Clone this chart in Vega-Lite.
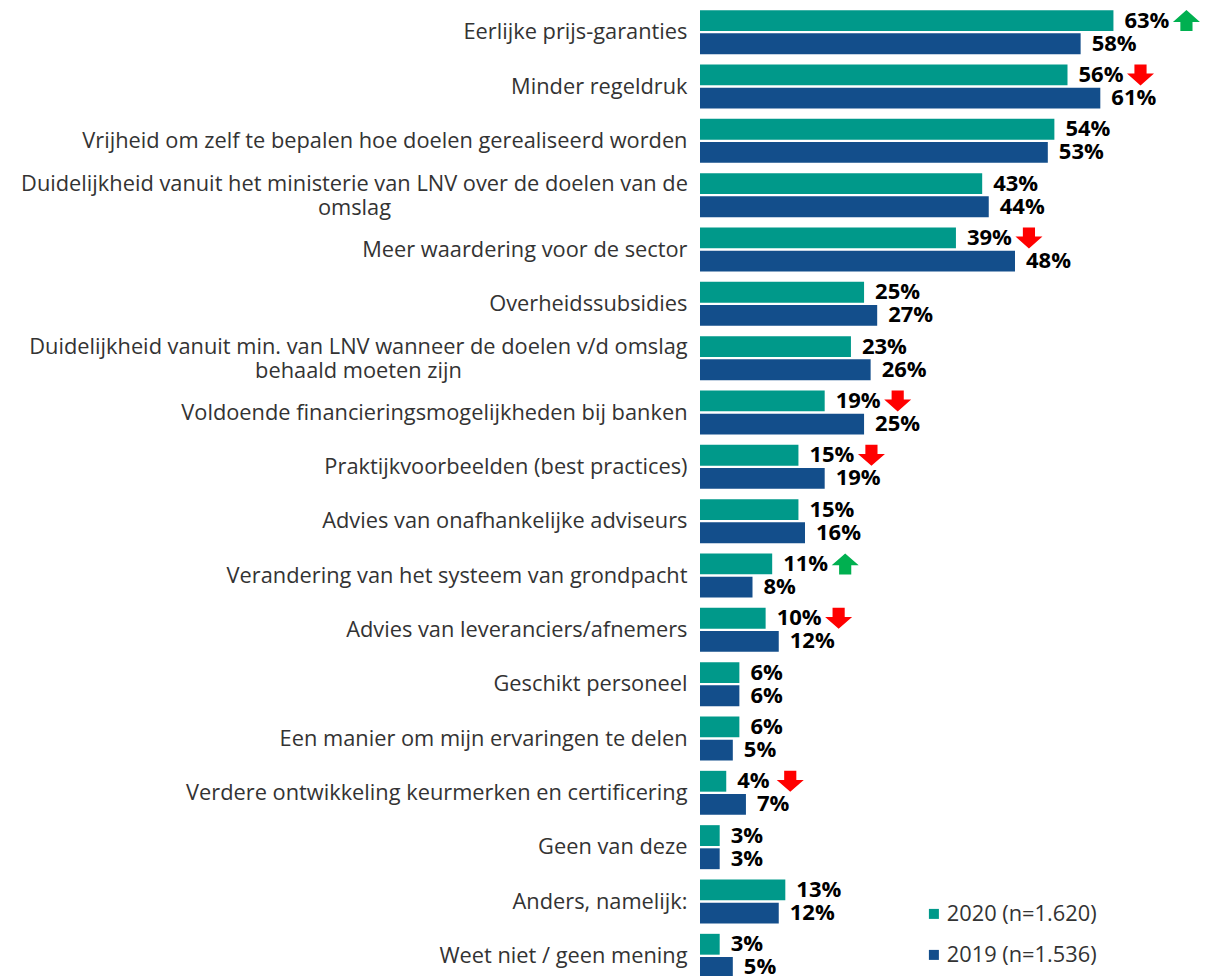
{
  "$schema": "https://vega.github.io/schema/vega-lite/v6.json",
  "width": 525,
  "height": 978,
  "autosize": {"type": "none"},
  "padding": {"left": 700, "top": 5, "right": 0, "bottom": 0},
  "background": "white",
  "config": {"view": {"stroke": null}, "font": "Open Sans"},
  "data": {"values": [
    {"cat": "Eerlijke prijs-garanties", "year": "2020 (n=1.620)", "value": 0.63, "trend": "up"},
    {"cat": "Eerlijke prijs-garanties", "year": "2019 (n=1.536)", "value": 0.58},
    {"cat": "Minder regeldruk", "year": "2020 (n=1.620)", "value": 0.56, "trend": "down"},
    {"cat": "Minder regeldruk", "year": "2019 (n=1.536)", "value": 0.61},
    {"cat": "Vrijheid om zelf te bepalen hoe doelen gerealiseerd worden", "year": "2020 (n=1.620)", "value": 0.54},
    {"cat": "Vrijheid om zelf te bepalen hoe doelen gerealiseerd worden", "year": "2019 (n=1.536)", "value": 0.53},
    {"cat": "Duidelijkheid vanuit het ministerie van LNV over de doelen van de|omslag", "year": "2020 (n=1.620)", "value": 0.43},
    {"cat": "Duidelijkheid vanuit het ministerie van LNV over de doelen van de|omslag", "year": "2019 (n=1.536)", "value": 0.44},
    {"cat": "Meer waardering voor de sector", "year": "2020 (n=1.620)", "value": 0.39, "trend": "down"},
    {"cat": "Meer waardering voor de sector", "year": "2019 (n=1.536)", "value": 0.48},
    {"cat": "Overheidssubsidies", "year": "2020 (n=1.620)", "value": 0.25},
    {"cat": "Overheidssubsidies", "year": "2019 (n=1.536)", "value": 0.27},
    {"cat": "Duidelijkheid vanuit min. van LNV wanneer de doelen v/d omslag|behaald moeten zijn", "year": "2020 (n=1.620)", "value": 0.23},
    {"cat": "Duidelijkheid vanuit min. van LNV wanneer de doelen v/d omslag|behaald moeten zijn", "year": "2019 (n=1.536)", "value": 0.26},
    {"cat": "Voldoende financieringsmogelijkheden bij banken", "year": "2020 (n=1.620)", "value": 0.19, "trend": "down"},
    {"cat": "Voldoende financieringsmogelijkheden bij banken", "year": "2019 (n=1.536)", "value": 0.25},
    {"cat": "Praktijkvoorbeelden (best practices)", "year": "2020 (n=1.620)", "value": 0.15, "trend": "down"},
    {"cat": "Praktijkvoorbeelden (best practices)", "year": "2019 (n=1.536)", "value": 0.19},
    {"cat": "Advies van onafhankelijke adviseurs", "year": "2020 (n=1.620)", "value": 0.15},
    {"cat": "Advies van onafhankelijke adviseurs", "year": "2019 (n=1.536)", "value": 0.16},
    {"cat": "Verandering van het systeem van grondpacht", "year": "2020 (n=1.620)", "value": 0.11, "trend": "up"},
    {"cat": "Verandering van het systeem van grondpacht", "year": "2019 (n=1.536)", "value": 0.08},
    {"cat": "Advies van leveranciers/afnemers", "year": "2020 (n=1.620)", "value": 0.10, "trend": "down"},
    {"cat": "Advies van leveranciers/afnemers", "year": "2019 (n=1.536)", "value": 0.12},
    {"cat": "Geschikt personeel", "year": "2020 (n=1.620)", "value": 0.06},
    {"cat": "Geschikt personeel", "year": "2019 (n=1.536)", "value": 0.06},
    {"cat": "Een manier om mijn ervaringen te delen", "year": "2020 (n=1.620)", "value": 0.06},
    {"cat": "Een manier om mijn ervaringen te delen", "year": "2019 (n=1.536)", "value": 0.05},
    {"cat": "Verdere ontwikkeling keurmerken en certificering", "year": "2020 (n=1.620)", "value": 0.04, "trend": "down"},
    {"cat": "Verdere ontwikkeling keurmerken en certificering", "year": "2019 (n=1.536)", "value": 0.07},
    {"cat": "Geen van deze", "year": "2020 (n=1.620)", "value": 0.03},
    {"cat": "Geen van deze", "year": "2019 (n=1.536)", "value": 0.03},
    {"cat": "Anders, namelijk:", "year": "2020 (n=1.620)", "value": 0.13},
    {"cat": "Anders, namelijk:", "year": "2019 (n=1.536)", "value": 0.12},
    {"cat": "Weet niet / geen mening", "year": "2020 (n=1.620)", "value": 0.03},
    {"cat": "Weet niet / geen mening", "year": "2019 (n=1.536)", "value": 0.05}
  ]},
  "encoding": {
    "y": {
      "field": "cat", "type": "nominal", "sort": null,
      "scale": {"paddingInner": 0.19, "paddingOuter": 0.095},
      "axis": {
        "title": null, "domain": false, "ticks": false,
        "labelFontSize": 21.8, "labelColor": "#333333", "labelLimit": 700,
        "labelLineHeight": 24, "labelExpr": "split(datum.label, '|')",
        "labelAlign": {"expr": "indexof(datum.value, '|') >= 0 ? 'center' : 'right'"},
        "labelPadding": {"expr": "indexof(datum.value, 'van de|') >= 0 ? 346 : (indexof(datum.value, '|') >= 0 ? 342 : 13)"},
        "labelOffset": {"expr": "indexof(datum.value, '|') >= 0 ? -11 : 0"}
      }
    },
    "yOffset": {"field": "year", "type": "nominal", "sort": null, "scale": {"paddingInner": 0.1}}
  },
  "layer": [
    {
      "mark": {"type": "bar"},
      "encoding": {
        "x": {"field": "value", "type": "quantitative", "scale": {"domain": [0, 0.8]}, "axis": null},
        "color": {
          "field": "year", "type": "nominal", "sort": null,
          "scale": {"domain": ["2020 (n=1.620)", "2019 (n=1.536)"], "range": ["#00998A", "#134E8B"]},
          "legend": {
            "title": null, "orient": "none", "legendX": 223, "legendY": 898,
            "symbolType": "square", "symbolSize": 100, "symbolStrokeWidth": 0,
            "labelFontSize": 21.8, "labelColor": "#333333", "rowPadding": 18, "labelOffset": 2
          }
        }
      }
    },
    {
      "mark": {"type": "text", "dx": 11, "align": "left", "baseline": "middle", "fontWeight": "bold", "fontSize": 22, "color": "#000000"},
      "encoding": {
        "x": {"field": "value", "type": "quantitative"},
        "text": {"field": "value", "type": "quantitative", "format": ".0%"}
      }
    },
    {
      "transform": [{"filter": "datum.trend == 'up'"}],
      "mark": {"type": "point", "filled": true, "opacity": 1, "strokeWidth": 0, "color": "#00B050", "size": 729,
        "xOffset": {"expr": "datum.value < 0.095 ? 64 : 73"},
        "shape": "M0,-0.78L1,0.1L0.45,0.1L0.45,0.78L-0.45,0.78L-0.45,0.1L-1,0.1Z"},
      "encoding": {"x": {"field": "value", "type": "quantitative"}}
    },
    {
      "transform": [{"filter": "datum.trend == 'down'"}],
      "mark": {"type": "point", "filled": true, "opacity": 1, "strokeWidth": 0, "color": "#FF0000", "size": 729,
        "xOffset": {"expr": "datum.value < 0.095 ? 64 : 73"},
        "shape": "M0,0.78L1,-0.1L0.45,-0.1L0.45,-0.78L-0.45,-0.78L-0.45,-0.1L-1,-0.1Z"},
      "encoding": {"x": {"field": "value", "type": "quantitative"}}
    }
  ]
}
